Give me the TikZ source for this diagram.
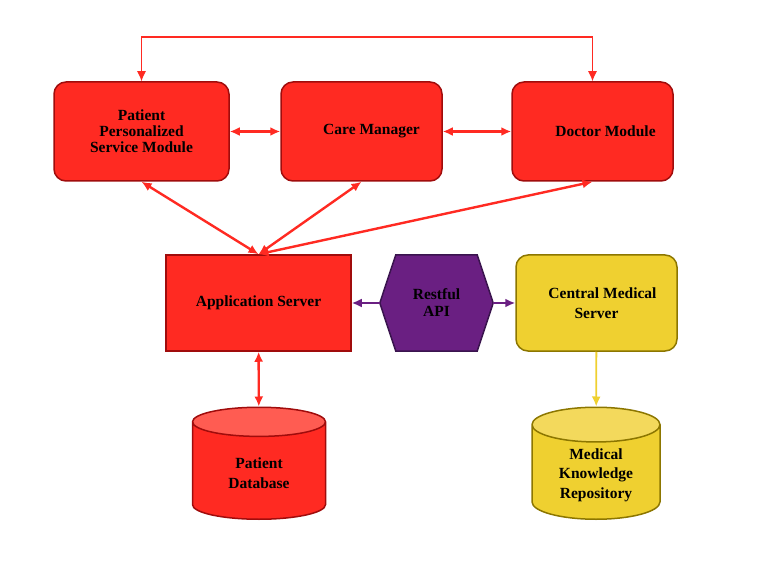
\documentclass[tikz,border=0pt]{standalone}
\usepackage{fontspec}
\setmainfont{Liberation Serif}
\usetikzlibrary{positioning,arrows.meta,shapes.geometric,calc,backgrounds}

\definecolor{boxred}{RGB}{255,42,34}
\definecolor{edgered}{RGB}{160,12,12}
\definecolor{topred}{RGB}{255,92,82}
\definecolor{apipurple}{RGB}{106,31,130}
\definecolor{edgepurple}{RGB}{58,20,78}
\definecolor{boxyellow}{RGB}{239,208,48}
\definecolor{edgeyellow}{RGB}{140,118,0}
\definecolor{topyellow}{RGB}{243,217,92}

\tikzset{
  module/.style={draw=edgered,fill=boxred,line width=1.5,rounded corners=12,
    minimum width=161,minimum height=99,align=center,
    font=\fontsize{15.5}{16}\selectfont\bfseries},
  server/.style={draw=edgered,fill=boxred,line width=1.5,
    minimum width=185,minimum height=96,align=center},
  central/.style={draw=edgeyellow,fill=boxyellow,line width=1.5,rounded corners=12,
    minimum width=161,minimum height=96,align=center,
    font=\fontsize{15.5}{20}\selectfont\bfseries},
  store/.style={cylinder,shape border rotate=90,aspect=0.43,line width=1.5,
    cylinder uses custom fill,minimum height=112,align=center,anchor=south,
    font=\fontsize{15.5}{19.5}\selectfont\bfseries},
  link/.style={boxred,line width=2.4,{Latex[length=10,width=9]}-{Latex[length=10,width=9]}},
  toplink/.style={boxred,line width=1.2,{Latex[length=10,width=9]}-{Latex[length=10,width=9]}},
  apilink/.style={apipurple,line width=2.4,-{Latex[length=10,width=9]}},
  kblink/.style={boxyellow,line width=1.8,-{Latex[length=10,width=9]}}
}

\begin{document}
\begin{tikzpicture}[x=1pt,y=-1pt,font=\fontsize{15.5}{17}\selectfont\bfseries]
\useasboundingbox (0,0) rectangle (779,585);
% modules
\node [module,minimum width=175] (ppsm) at (141.5,131.5) {Patient\\Personalized\\Service Module};
\node [module] (care) at (361.5,131.5) {\hspace*{20pt}Care Manager};
\node [module] (doc) at (592.5,131.5) {\hspace*{26pt}Doctor Module};
% servers
\node [server] (app) at (258.5,303) {Application Server};
\node [minimum width=113,minimum height=96,inner sep=0,align=center] (api) at (436.5,303) {Restful\\API};
\node [central] (cms) at (596.5,303) {\hspace*{12pt}Central Medical\\Server};
\begin{scope}[on background layer]
\draw [fill=apipurple,draw=edgepurple,line width=1.5] (api.west) -- ($(api.north west)+(16,0)$)
  -- ($(api.north east)+(-16,0)$) -- (api.east) -- ($(api.south east)+(-16,0)$)
  -- ($(api.south west)+(16,0)$) -- cycle;
\end{scope}
% stores
\node [store,draw=edgered,cylinder body fill=boxred,cylinder end fill=topred,minimum width=133] (pdb) at (259,520) {Patient\\Database};
\node [store,draw=edgeyellow,cylinder body fill=boxyellow,cylinder end fill=topyellow,minimum width=128] (mkr) at (596,520) {Medical\\Knowledge\\Repository};
% connectors
\coordinate (loop) at (141.5,37);
\draw [toplink] (ppsm.north) -- (loop) -| (doc.north);
\draw [link] (ppsm) -- (care);
\draw [link] (care) -- (doc);
\draw [link] (ppsm.south) -- (app.north);
\draw [link] (care.south) -- (app.north);
\draw [link] (doc.south) -- (app.north);
\draw [link] (app) -- (pdb);
\draw [apilink] (api.west) -- (app.east);
\draw [apilink] (api.east) -- (cms.west);
\draw [kblink] (cms) -- (mkr);
\end{tikzpicture}
\end{document}
